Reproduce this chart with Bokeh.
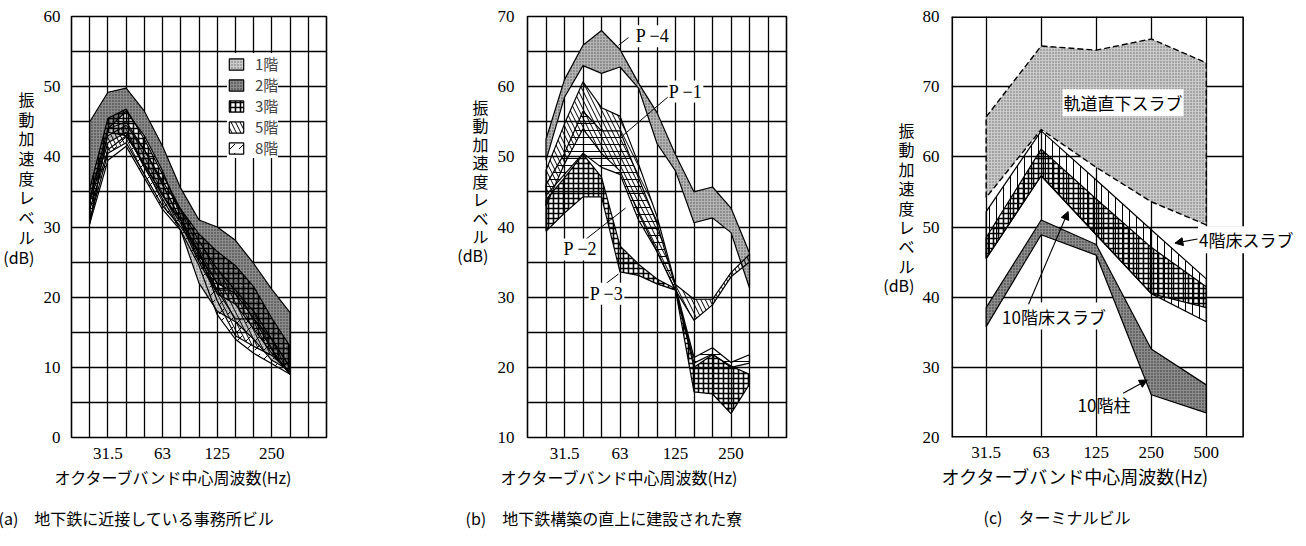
from bokeh.plotting import figure
from bokeh.layouts import row
from bokeh.models import Range1d, FixedTicker, Label, Arrow, NormalHead, Legend, LegendItem, Title, Span
from bokeh.embed import file_html
from bokeh.resources import INLINE

# ---------------- data ----------------
BANDS = ["20", "25", "31.5", "40", "50", "63", "80", "100", "125", "160", "200", "250", "315", "400", "500"]
OCT = ["31.5", "63", "125", "250", "500"]
A_TICKS = ["31.5", "63", "125", "250"]

# (a) office building near subway, 1/3-octave bands 25..315 Hz
A_FREQ = ["25", "31.5", "40", "50", "63", "80", "100", "125", "160", "200", "250", "315"]
a1_hi = [37.0, 44.0, 45.0, 41.0, 36.0, 31.0, 25.5, 21.0, 21.0, 18.5, 14.5, 10.5]
a1_lo = [33.5, 42.0, 43.5, 38.5, 34.0, 29.5, 22.0, 18.0, 16.5, 14.0, 11.0, 9.5]
a2_hi = [45.0, 49.2, 49.8, 46.5, 41.5, 35.5, 31.0, 30.0, 28.1, 24.8, 21.1, 17.8]
a2_lo = [34.0, 44.0, 46.5, 43.0, 38.0, 31.5, 26.0, 22.0, 20.5, 17.0, 12.5, 9.0]
a3_hi = [35.5, 45.5, 46.8, 42.5, 37.5, 32.5, 29.0, 26.5, 24.5, 21.5, 17.0, 13.0]
a3_lo = [30.4, 43.5, 43.0, 39.0, 34.5, 30.5, 25.0, 20.5, 19.0, 15.5, 12.0, 9.0]
a5_hi = [34.0, 43.0, 44.5, 41.0, 36.5, 32.5, 28.0, 24.0, 21.0, 18.0, 14.0, 10.0]
a5_lo = [31.0, 40.5, 42.0, 37.5, 33.0, 30.0, 26.5, 19.5, 14.5, 13.0, 11.7, 9.3]
a8_hi = [32.5, 41.0, 43.0, 39.0, 34.5, 31.0, 26.5, 21.0, 16.9, 16.9, 14.0, 10.0]
a8_lo = [30.5, 39.5, 41.5, 37.0, 32.5, 29.5, 24.5, 17.5, 14.0, 12.0, 10.5, 9.0]
A_LEGEND = ["1階", "2階", "3階", "5階", "8階"]

# (b) dormitory above subway structure
B_FREQ = ["25", "31.5", "40", "50", "63", "80", "100", "125", "160", "200", "250", "315"]
p4_hi = [52.5, 61.0, 65.9, 68.0, 65.3, 60.5, 56.3, 50.3, 45.0, 45.7, 42.7, 36.3]
p4_lo = [49.5, 58.5, 63.0, 61.9, 62.8, 59.8, 51.9, 48.0, 40.6, 41.3, 39.2, 31.3]
p1_hi = [48.1, 54.7, 60.7, 57.0, 55.8, 49.0, 41.5, 31.8, 29.7, 29.7, 33.5, 36.1]
p1_lo = [43.0, 49.0, 54.0, 50.5, 48.0, 42.0, 36.5, 31.0, 26.7, 28.9, 32.9, 35.0]
p2_hi = [46.0, 50.5, 56.5, 53.7, 53.7, 47.0, 40.5, 31.5, 21.4, 22.8, 20.7, 21.8]
p2_lo = [44.5, 47.5, 50.5, 48.5, 47.5, 41.0, 36.5, 31.0, 20.6, 21.9, 20.0, 20.6]
p3_hi = [43.9, 47.0, 50.4, 47.1, 37.3, 34.7, 32.6, 31.2, 20.0, 21.8, 20.2, 19.0]
p3_lo = [39.4, 42.0, 44.3, 44.3, 33.6, 33.1, 31.9, 31.0, 16.5, 16.2, 13.4, 17.6]
B_NAMES = ["P −4", "P −1", "P −2", "P −3"]

# (c) terminal building, octave bands
c_slab_hi = [65.7, 75.8, 75.2, 76.8, 73.4]
c_slab_lo = [54.2, 63.9, 58.5, 53.6, 50.3]
c_f4_hi = [52.2, 63.7, 56.7, 49.6, 42.6]
c_f4_lo = [45.5, 57.3, 48.9, 40.5, 36.5]
c_f10_hi = [48.5, 61.1, 54.0, 47.1, 41.5]
c_f10_lo = [45.5, 57.3, 48.9, 40.5, 38.5]
c_col_hi = [38.5, 51.0, 47.5, 32.6, 27.5]
c_col_lo = [35.8, 48.9, 46.0, 26.1, 23.5]

JP = "Noto Sans CJK JP"
SERIF = "Liberation Serif"
YLAB = "振\n動\n加\n速\n度\nレ\nベ\nル\n(dB)"
XLAB = "オクターブバンド中心周波数(Hz)"

LIGHT = dict(fill_color="#cbcbcb", hatch_pattern="dot", hatch_color="#666666", hatch_scale=3, hatch_weight=0.8)
DARK = dict(fill_color="#8c8c8c", hatch_pattern="dot", hatch_color="#2a2a2a", hatch_scale=3, hatch_weight=0.9)
MID = dict(fill_color="#b4b4b4", hatch_pattern="dot", hatch_color="#505050", hatch_scale=3, hatch_weight=0.8)
CHECK = dict(fill_color="white", fill_alpha=0.0, hatch_pattern="cross", hatch_color="black", hatch_scale=5, hatch_weight=1.6)
BACK = dict(fill_alpha=0.0, hatch_pattern="left_diagonal_line", hatch_color="black", hatch_scale=9, hatch_weight=1.0)
FWD = dict(fill_alpha=0.0, hatch_pattern="right_diagonal_dash", hatch_color="black", hatch_scale=9, hatch_weight=1.0)
HORIZ = dict(fill_alpha=0.0, hatch_pattern="horizontal_line", hatch_color="black", hatch_scale=7, hatch_weight=1.0)
VERT = dict(fill_alpha=0.0, hatch_pattern="vertical_line", hatch_color="black", hatch_scale=7, hatch_weight=1.0)


def base(width, xr, yr, left, right, top, bottom, xticks, xlabels, yticks, xgrid, ygrid, xstand, ystand,
         ylab_pad, ylab_lh, ylab_stand):
    p = figure(width=width, height=546, x_range=Range1d(*xr), y_range=Range1d(*yr),
               output_backend="svg", toolbar_location=None,
               min_border_left=left, min_border_right=right, min_border_top=top, min_border_bottom=bottom)
    p.outline_line_color = "black"
    p.outline_line_width = 1.6
    p.background_fill_color = "white"
    p.border_fill_color = "white"
    p.xaxis.ticker = FixedTicker(ticks=xticks)
    p.xaxis.major_label_overrides = {t: l for t, l in zip(xticks, xlabels)}
    p.yaxis.ticker = FixedTicker(ticks=yticks)
    for ax, st in ((p.xaxis, xstand), (p.yaxis, ystand)):
        ax.axis_line_color = None
        ax.major_tick_line_color = None
        ax.minor_tick_line_color = None
        ax.major_label_text_font = SERIF
        ax.major_label_text_font_size = "17px"
        ax.major_label_text_color = "black"
        ax.major_label_standoff = st
    yax = p.yaxis[0]
    yax.axis_label = YLAB + "\n　" * ylab_pad
    yax.axis_label_text_font = JP
    yax.axis_label_text_font_size = "16px"
    yax.axis_label_text_font_style = "normal"
    yax.axis_label_text_color = "black"
    yax.axis_label_text_line_height = ylab_lh
    yax.axis_label_standoff = ylab_stand
    try:
        yax.axis_label_orientation = "horizontal"
    except Exception:
        pass
    p.xgrid.ticker = FixedTicker(ticks=xgrid)
    p.ygrid.ticker = FixedTicker(ticks=ygrid)
    for g in (p.xgrid, p.ygrid):
        g.grid_line_color = "black"
        g.grid_line_width = 1.3
        g.grid_line_alpha = 1.0
    return p


def titles(p, xoff, xsize, cap, capoff, capsize, st1, st2):
    p.add_layout(Title(text=XLAB, align="left", offset=xoff, text_font=JP, text_font_size=xsize,
                       text_font_style="normal", text_color="black", standoff=st1), "below")
    p.add_layout(Title(text=cap, align="left", offset=capoff, text_font=JP, text_font_size=capsize,
                       text_font_style="normal", text_color="black", standoff=st2), "below")


def band(p, xs, hi, lo, style, lw=1.2, dash="solid"):
    return p.patch(xs + xs[::-1], hi + lo[::-1], line_color="black", line_width=lw, line_dash=dash, **style)


def text(p, x, y, t, size="16px", font=JP, align="left", baseline="middle", bg=None):
    lab = Label(x=x, y=y, text=t, text_font=font, text_font_size=size, text_align=align,
                text_baseline=baseline, text_color="black")
    if bg:
        lab.background_fill_color = bg
        lab.background_fill_alpha = 1.0
        lab.padding = 1
    p.add_layout(lab)


def seg(p, x0, y0, x1, y1, w=1.0):
    p.segment(x0=[x0], y0=[y0], x1=[x1], y1=[y1], line_color="black", line_width=w)


def arrow(p, x0, y0, x1, y1):
    p.add_layout(Arrow(end=NormalHead(size=8, fill_color="black", line_color="black"),
                       x_start=x0, y_start=y0, x_end=x1, y_end=y1, line_color="black", line_width=1.1))


# ---------------- (a) ----------------
xa = [BANDS.index(f) for f in A_FREQ]
pa = base(440, (0, 14), (0, 60), 65, 114, 16, 103,
          [BANDS.index(f) for f in A_TICKS], A_TICKS, list(range(0, 61, 10)),
          list(range(1, 14)), list(range(5, 60, 5)), 4, 5, 5, 0.82, 6)
ra1 = band(pa, xa, a1_hi, a1_lo, LIGHT)
ra2 = band(pa, xa, a2_hi, a2_lo, DARK)
ra3 = band(pa, xa, a3_hi, a3_lo, CHECK)
ra5 = band(pa, xa, a5_hi, a5_lo, BACK)
ra8 = band(pa, xa, a8_hi, a8_lo, FWD)
leg = Legend(items=[LegendItem(label=n, renderers=[r]) for n, r in zip(A_LEGEND, [ra1, ra2, ra3, ra5, ra8])],
             location=(156, 279), glyph_width=18, glyph_height=14, label_height=21, spacing=0,
             padding=4, margin=0, label_standoff=10, border_line_color=None,
             background_fill_color="white", background_fill_alpha=1.0,
             label_text_font=JP, label_text_font_size="15px")
pa.add_layout(leg)
titles(pa, -17, "16px", "(a)　地下鉄に近接している事務所ビル", -73, "16px", 2, 29)

# ---------------- (b) ----------------
xb = [BANDS.index(f) for f in B_FREQ]
pb = base(440, (0, 14), (10, 70), 87, 94, 14, 105,
          [BANDS.index(f) for f in A_TICKS], A_TICKS, list(range(10, 71, 10)),
          list(range(1, 14)), list(range(15, 70, 5)), 4, 7, 5, 0.77, 6)
band(pb, xb, p4_hi, p4_lo, MID)
band(pb, xb, p1_hi, p1_lo, BACK)
band(pb, xb, p2_hi, p2_lo, HORIZ)
band(pb, xb, p3_hi, p3_lo, CHECK)
seg(pb, 4.92, 65.9, 5.46, 67.0)
seg(pb, 7.62, 58.6, 5.14, 53.0)
seg(pb, 3.03, 38.0, 5.30, 42.7)
seg(pb, 4.22, 31.9, 4.92, 33.3)
for (x, y), n in zip([(6.76, 67.2), (8.54, 59.3), (2.86, 36.8), (4.27, 30.5)], B_NAMES):
    text(pb, x, y, n, font=SERIF, size="18px", align="center", bg="white")
titles(pb, -27, "16px", "(b)　地下鉄構築の直上に建設された寮", -62, "16px", 2, 29)

# ---------------- (c) ----------------
xc = list(range(len(OCT)))
C_LEFT, C_RIGHT = -0.63, 4.67
pc = base(426, (C_LEFT, C_LEFT + 352 / 55.5), (20, 80), 68, 6, 8, 109,
          xc, OCT, list(range(20, 81, 10)), xc, list(range(30, 80, 10)), 3, 6, 2, 0.81, 5)
pc.outline_line_color = None
try:
    pc.ygrid[0].cross_bounds = (C_LEFT, C_RIGHT)
except Exception:
    pc.quad(left=[C_RIGHT], right=[C_LEFT + 352 / 55.5], bottom=[20], top=[80],
            fill_color="white", line_color=None)
band(pc, xc, c_slab_hi, c_slab_lo, LIGHT, lw=1.4, dash="6 3")
band(pc, xc, c_f4_hi, c_f4_lo, VERT)
band(pc, xc, c_f10_hi, c_f10_lo, CHECK)
band(pc, xc, c_col_hi, c_col_lo, DARK)
pc.add_layout(Span(location=C_LEFT, dimension="height", line_color="black", line_width=3.2))
pc.add_layout(Span(location=C_RIGHT, dimension="height", line_color="black", line_width=1.6))
seg(pc, C_LEFT, 80, C_RIGHT, 80, w=3.2)
seg(pc, C_LEFT, 20, C_RIGHT, 20, w=3.2)
text(pc, 2.487, 67.7, "軌道直下スラブ", size="17px", align="center", bg="white")
text(pc, 3.85, 48.2, "4階床スラブ", size="17px", align="left", bg="white")
arrow(pc, 3.84, 48.3, 3.43, 47.7)
text(pc, 0.27, 37.3, "10階床スラブ", size="17px", align="left", bg="white")
arrow(pc, 0.77, 39.0, 1.49, 52.2)
text(pc, 1.66, 24.7, "10階柱", size="17px", align="left")
arrow(pc, 2.49, 26.3, 2.93, 28.2)
titles(pc, -10, "18px", "(c)　ターミナルビル", 32, "16px", 0, 29)

layout = row(pa, pb, pc)
open("out.html", "w").write(file_html(layout, INLINE))
